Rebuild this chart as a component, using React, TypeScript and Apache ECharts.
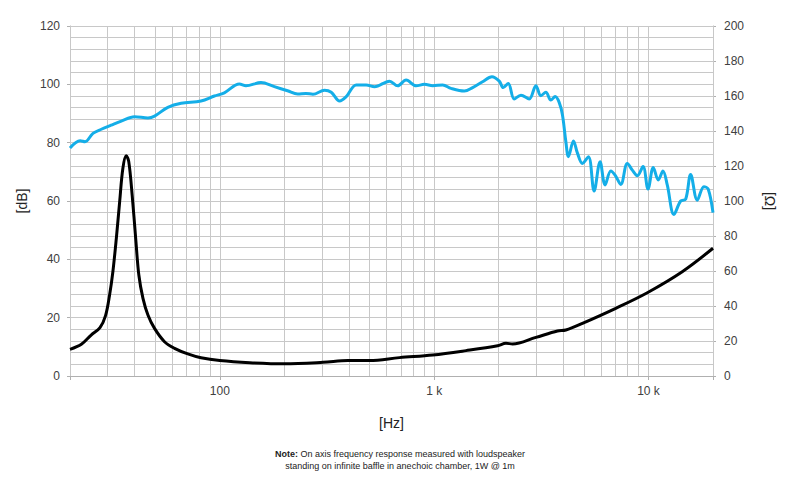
import React, { useEffect, useRef } from "react";
import * as echarts from "echarts";

// Sound pressure level [Hz, dB]
const splData: [number, number][] = [
  [20, 78.2], [22.3, 80.7], [23.5, 80.3], [25.6, 83.2], [28, 84.6], [31.1, 86], [34.7, 87.4],
  [40, 88.9], [46.2, 88.5], [49.6, 89.1], [57.2, 92.1], [66, 93.5], [81.7, 94.3], [94.4, 96],
  [105, 97.1], [123.4, 100.1], [132.5, 99.5], [155.6, 100.6], [179.7, 99.2], [207, 97.8],
  [231, 96.7], [252, 96.9], [272, 96.6], [308, 98], [331, 97.3], [362, 94.3], [389, 95.8],
  [433, 99.8], [482, 99.8], [527, 99.2], [619, 101.1], [676, 99.5], [740, 101.5], [824, 99.5],
  [901, 100], [985, 99.5], [1096, 99.8], [1199, 98.6], [1383, 97.7], [1512, 98.9], [1683, 100.9],
  [1861, 102.6], [2013, 101.1], [2101, 98.9], [2217, 100.3], [2364, 95], [2541, 96.3], [2777, 95],
  [2984, 99.5], [3148, 96.1], [3321, 97.3], [3504, 94.6], [3669, 95.8], [3831, 93.8], [3969, 89.5],
  [4117, 80.3], [4233, 75.2], [4467, 80.6], [4662, 76.4], [4918, 72.9], [5246, 75.2], [5576, 63.4],
  [5946, 73.5], [6274, 65.5], [6670, 70.3], [6984, 68.9], [7424, 65.7], [7967, 72.9], [8406, 70.6],
  [8868, 68.7], [9430, 71.8], [9949, 64.1], [10532, 71.5], [11110, 67.2], [11686, 70.3],
  [12236, 65.5], [13150, 55.4], [14130, 60], [14910, 60.6], [15730, 69.1], [16890, 60.3],
  [18140, 64.9], [18990, 64.1], [20000, 56],
];

// Impedance [Hz, Ω]
const impedanceData: [number, number][] = [
  [20, 15.2], [22.6, 18.1], [25.1, 23.4], [27.6, 27.6], [29.3, 34.5], [30.6, 46.3], [31.7, 59.6],
  [32.9, 78.7], [34.1, 99.6], [35.3, 118.7], [36.6, 125.8], [37.6, 122.5], [39, 103.4],
  [40.5, 78.7], [41.9, 57.7], [43.8, 44.4], [46.2, 34.9], [49.6, 27.2], [55.2, 19.6],
  [61.5, 15.8], [70.9, 12.6], [81.7, 10.4], [100, 8.8], [138, 7.6], [200, 7.0], [303, 7.8],
  [396, 8.8], [500, 8.8], [689, 10.5], [985, 12], [1408, 14.5], [1977, 17.3], [2163, 18.7],
  [2322, 18.3], [2984, 22.1], [3761, 25.7], [4117, 26.3], [4918, 30.1], [7036, 38.7],
  [9874, 47.6], [14370, 59.6], [20000, 73],
];

// Vertical grid lines (Hz)
const freqGridLines = [
  20, 30, 40, 50, 60, 70, 80, 90, 100, 200, 300, 400, 500, 600, 700, 800, 900,
  1000, 2000, 3000, 4000, 5000, 6000, 7000, 8000, 9000, 10000, 20000,
];

const xTickLabels: Record<number, string> = { 100: "100", 1000: "1 k", 10000: "10 k" };

const noteLine1 = "On axis frequency response measured with loudspeaker";
const noteLine2 = "standing on infinite baffle in anechoic chamber, 1W @ 1m";

const FONT = "'Liberation Sans', Arial, sans-serif";
const GRID = "#c8c8c8";
const AXIS = "#b0b0b0";
const LABEL = "#404040";

export default function App() {
  const ref = useRef<HTMLDivElement>(null);

  useEffect(() => {
    if (!ref.current) return;
    const chart = echarts.init(ref.current, undefined, { renderer: "svg" });
    chart.setOption({
      animation: false,
      backgroundColor: "#ffffff",
      textStyle: { fontFamily: FONT },
      grid: { left: 70, right: 87, top: 26, bottom: 103, containLabel: false },
      xAxis: {
        type: "log",
        logBase: 10,
        min: 20,
        max: 20000,
        name: "[Hz]",
        nameLocation: "middle",
        nameGap: 40,
        nameTextStyle: { fontSize: 14, color: "#222", fontFamily: FONT },
        axisLine: { show: true, lineStyle: { color: AXIS } },
        axisTick: { show: true, length: 4, lineStyle: { color: AXIS } },
        splitLine: { show: false },
        axisLabel: {
          show: true,
          margin: 9,
          fontSize: 12,
          color: LABEL,
          fontFamily: FONT,
          formatter: (v: number) => {
            const key = Math.round(v);
            return xTickLabels[key] ?? "";
          },
        },
      },
      yAxis: [
        {
          type: "value",
          min: 0,
          max: 120,
          interval: 20,
          name: "[dB]",
          nameLocation: "middle",
          nameGap: 41,
          nameTextStyle: { fontSize: 14, color: "#222", fontFamily: FONT },
          axisLine: { show: true, lineStyle: { color: AXIS } },
          axisTick: { show: true, length: 3, lineStyle: { color: AXIS } },
          axisLabel: { margin: 10, fontSize: 12, color: LABEL, fontFamily: FONT },
          splitLine: { show: true, lineStyle: { color: GRID, width: 1 } },
          minorTick: { show: false, splitNumber: 5 },
          minorSplitLine: { show: true, lineStyle: { color: GRID, width: 1 } },
        },
        {
          type: "value",
          position: "right",
          min: 0,
          max: 200,
          interval: 20,
          name: "[Ω]",
          nameLocation: "middle",
          nameRotate: -90,
          nameGap: 50,
          nameTextStyle: { fontSize: 14, color: "#222", fontFamily: FONT },
          axisLine: { show: true, lineStyle: { color: AXIS } },
          axisTick: { show: true, length: 3, lineStyle: { color: AXIS } },
          axisLabel: { margin: 11, fontSize: 12, color: LABEL, fontFamily: FONT },
          splitLine: { show: false },
        },
      ],
      series: [
        {
          name: "SPL",
          type: "line",
          xAxisIndex: 0,
          yAxisIndex: 0,
          data: splData,
          showSymbol: false,
          smooth: 0.35,
          z: 3,
          lineStyle: { color: "#14aee8", width: 3 },
          itemStyle: { color: "#14aee8" },
          markLine: {
            silent: true,
            z: 1,
            symbol: ["none", "none"],
            label: { show: false },
            lineStyle: { color: GRID, width: 1, type: "solid" },
            emphasis: { disabled: true },
            data: freqGridLines.map((f) => ({ xAxis: f })),
          },
        },
        {
          name: "Impedance",
          type: "line",
          xAxisIndex: 0,
          yAxisIndex: 1,
          data: impedanceData,
          showSymbol: false,
          smooth: 0.35,
          z: 3,
          lineStyle: { color: "#000000", width: 3 },
          itemStyle: { color: "#000000" },
        },
      ],
      graphic: [
        {
          type: "text",
          left: "center",
          top: 449,
          style: {
            text: "{b|Note:} " + noteLine1,
            fontSize: 9,
            fontFamily: FONT,
            fill: "#222",
            rich: {
              b: { fontWeight: "bold", fontSize: 9, fontFamily: FONT, fill: "#222" },
            },
          },
        },
        {
          type: "text",
          left: "center",
          top: 461,
          style: {
            text: noteLine2,
            fontSize: 9,
            fontFamily: FONT,
            fill: "#222",
          },
        },
      ],
    });
    return () => chart.dispose();
  }, []);

  return (
    <div
      ref={ref}
      style={{ position: "fixed", left: 0, top: 0, width: 800, height: 479 }}
    />
  );
}
